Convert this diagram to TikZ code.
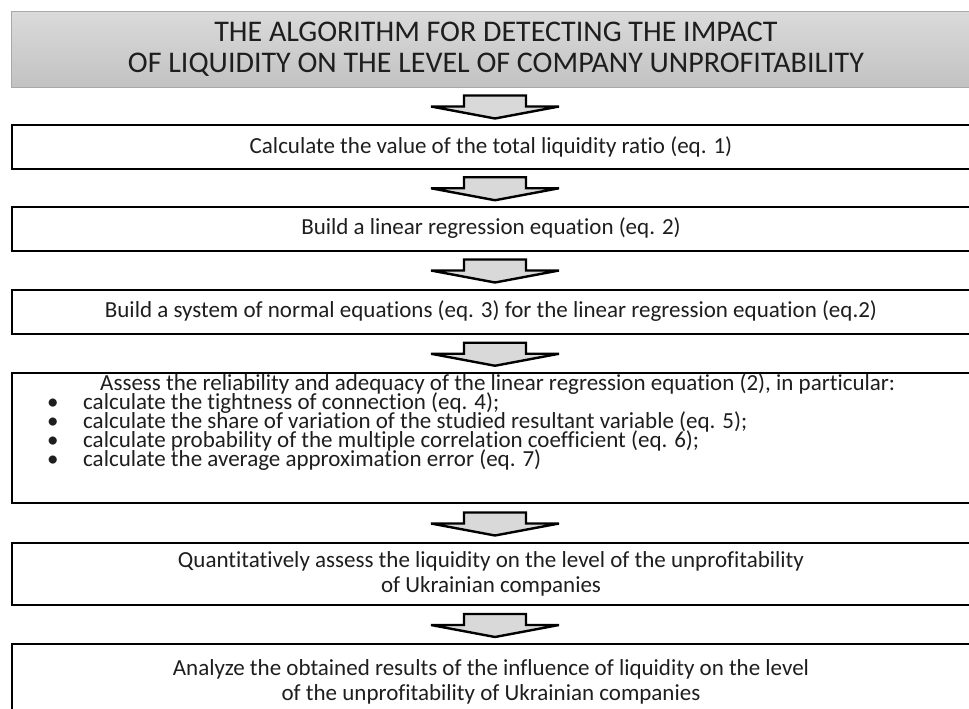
\documentclass[tikz,border=0pt]{standalone}
\usepackage{fontspec}
\setmainfont{Carlito}[Ligatures=NoCommon]
\usetikzlibrary{calc}
\definecolor{ttop}{HTML}{DADADA}
\definecolor{tbot}{HTML}{C2C2C2}
\definecolor{tline}{HTML}{A8A8A8}
\definecolor{afill}{HTML}{D9D9D9}
\definecolor{txt}{HTML}{1E1E1E}
\newcommand\mytightlines{\lineskiplimit=-100pt\relax}
\begin{document}
\begin{tikzpicture}[x=1pt,y=-1pt,
  titlebox/.style={draw=tline,line width=1pt,top color=ttop,bottom color=tbot,
    minimum width=960pt,minimum height=76pt,inner sep=0pt},
  titletext/.style={inner sep=0pt,align=center,text=txt,font=\fontsize{30}{31}\selectfont},
  stepbox/.style={draw=black,line width=2pt,fill=white,minimum width=958pt,
    inner sep=0pt,align=center,text=txt,font=\fontsize{23}{25}\selectfont},
  bodytext/.style={inner sep=0pt,text=txt,align=left,
    font=\fontsize{23}{19.1}\selectfont\mytightlines},
  arrowst/.style={draw=black,line width=2.4pt,fill=afill,line join=miter},
  pics/barrow/.style={code={
    \draw[arrowst] (-31,-11.5) -- (31,-11.5) -- (31,-0.5) -- (64,-0.5) -- (0,11.5)
      -- (-64,-0.5) -- (-31,-0.5) -- cycle;}}]
\clip (0,0) rectangle (969,709);
\fill[white] (0,0) rectangle (969,709);

\node[titlebox] (t) at (491,49.5) {};
\node[titletext] (tt) at (496,49.5) {THE ALGORITHM FOR DETECTING THE IMPACT\\OF LIQUIDITY ON THE LEVEL OF COMPANY UNPROFITABILITY};

\node[stepbox,minimum height=44pt] (b1) at (491,147) {Calculate the value of the total liquidity ratio (eq. 1)};
\node[stepbox,minimum height=44pt] (b2) at (491,228.5) {Build a linear regression equation (eq. 2)};
\node[stepbox,minimum height=44pt] (b3) at (491,311.5) {Build a system of normal equations (eq. 3) for the linear regression equation (eq.2)};
\node[stepbox,minimum height=130pt] (b4) at (491,438) {};
\node[stepbox,minimum height=62pt] (b5) at (491,574) {Quantitatively assess the liquidity on the level of the unprofitability\\of Ukrainian companies};
\node[stepbox,minimum height=76pt] (b6) at (491,682) {Analyze the obtained results of the influence of liquidity on the level\\of the unprofitability of Ukrainian companies};

\node[bodytext,anchor=north west] (lst) at (47,373) {%
\hspace*{53pt}Assess the reliability and adequacy of the linear regression equation (2), in particular:\\
\makebox[36pt][l]{•}calculate the tightness of connection (eq. 4);\\
\makebox[36pt][l]{•}calculate the share of variation of the studied resultant variable (eq. 5);\\
\makebox[36pt][l]{•}calculate probability of the multiple correlation coefficient (eq. 6);\\
\makebox[36pt][l]{•}calculate the average approximation error (eq. 7)};

\pic at ($(t.south)!0.5!(b1.north)+(4,1)$) {barrow};
\pic at ($(b1.south)!0.5!(b2.north)+(4,1)$) {barrow};
\pic at ($(b2.south)!0.5!(b3.north)+(4,1)$) {barrow};
\pic at ($(b3.south)!0.5!(b4.north)+(4,1)$) {barrow};
\pic at ($(b4.south)!0.5!(b5.north)+(4,1)$) {barrow};
\pic at ($(b5.south)!0.5!(b6.north)+(4,1)$) {barrow};
\end{tikzpicture}
\end{document}
